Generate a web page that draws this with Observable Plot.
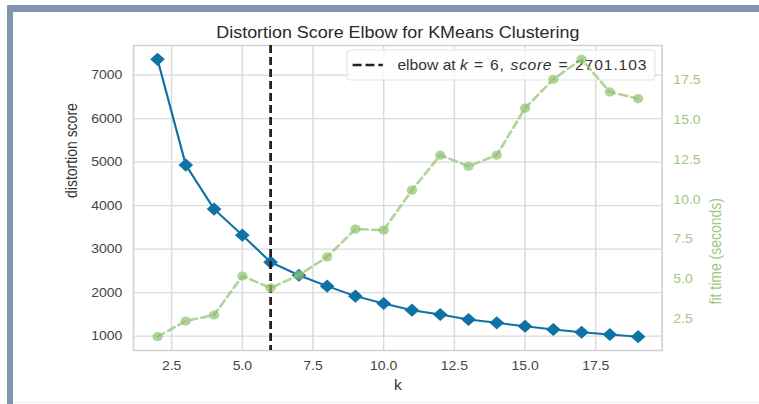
<!DOCTYPE html>
<html>
<head>
<meta charset="utf-8">
<script src="https://cdn.jsdelivr.net/npm/d3@7"></script>
<script src="https://cdn.jsdelivr.net/npm/@observablehq/plot@0.6"></script>
<style>
  html, body { margin: 0; padding: 0; background: #ffffff; }
  body { width: 759px; height: 404px; position: relative; overflow: hidden; }
  #wrap { position: absolute; left: 0; top: 0; width: 678px; height: 404px; transform-origin: 0 0; }
  .band { position: absolute; background: #8295af; }
</style>
</head>
<body>
<div class="band" style="left:7px; top:5px; width:6px; height:399px;"></div>
<div class="band" style="left:7px; top:5px; width:752px; height:7px;"></div>
<div style="position:absolute; left:13px; top:402px; width:746px; height:1px; background:#ececec;"></div>
<div id="wrap"></div>
<script>
// ---- data ----
const kValues = [2, 3, 4, 5, 6, 7, 8, 9, 10, 11, 12, 13, 14, 15, 16, 17, 18, 19];
const distortion = [7360, 4931, 3920, 3322, 2701, 2400, 2150, 1920, 1752, 1598, 1498, 1383, 1307, 1230, 1153, 1092, 1038, 990];
const fitTime = [1.39, 2.37, 2.75, 5.2, 4.45, 5.26, 6.4, 8.15, 8.09, 10.6, 12.8, 12.1, 12.8, 15.75, 17.57, 18.82, 16.77, 16.35];
const xTicks = [2.5, 5.0, 7.5, 10.0, 12.5, 15.0, 17.5];
const yTicks = [1000, 2000, 3000, 4000, 5000, 6000, 7000];
const fitTicks = [2.5, 5.0, 7.5, 10.0, 12.5, 15.0, 17.5];
const elbowK = 6;
const elbowScore = 2701.103;
const titleText = "Distortion Score Elbow for KMeans Clustering";
const xLabel = "k";
const yLabel = "distortion score";
const y2Label = "fit time (seconds)";

// ---- style ----
const blue = "#0f72a5";
const green = "#8fc26f";
const greenText = "#9cc883";
const FONT = "'Liberation Sans', Arial, Helvetica, sans-serif";
const W = 678, H = 404;
const stretch = 759 / W;

const rows = kValues.map((k, i) => ({k, distortion: distortion[i], fit: fitTime[i]}));

function padded(vals) {
  const [a, b] = d3.extent(vals);
  const m = (b - a) * 0.05;
  return [a - m, b + m];
}
const xDomain = padded(kValues);
const yDomain = padded(distortion);
const fitDomain = padded(fitTime);
const toD = d3.scaleLinear().domain(fitDomain).range(yDomain);
const fitTickPos = fitTicks.map(t => toD(t));

const gridStyle = {stroke: "#dadada", strokeOpacity: 1, strokeWidth: 1.3};

function legendMark(index, scales, values, dimensions) {
  const right = dimensions.width - dimensions.marginRight;
  const bw = 275, bh = 30;
  const x0 = right - 6 - bw, y0 = 50;
  const g = d3.create("svg:g").attr("font-family", FONT);
  g.append("rect").attr("x", x0).attr("y", y0).attr("width", bw).attr("height", bh)
    .attr("rx", 3).attr("fill", "#ffffff").attr("fill-opacity", 0.8)
    .attr("stroke", "#e4e4e4").attr("stroke-width", 1);
  g.append("line").attr("x1", x0 + 5).attr("x2", x0 + 32).attr("y1", y0 + 15).attr("y2", y0 + 15)
    .attr("stroke", "#222").attr("stroke-width", 2.5).attr("stroke-dasharray", "8,3.5");
  const t = g.append("text").attr("x", x0 + 45).attr("y", y0 + 20.5)
    .attr("text-anchor", "start").attr("font-size", 14).attr("fill", "#333");
  t.append("tspan").text("elbow at ");
  t.append("tspan").attr("font-style", "italic").text("k");
  t.append("tspan").attr("letter-spacing", 0.6).attr("word-spacing", 1).text(" = " + elbowK + ", ");
  t.append("tspan").attr("font-style", "italic").attr("letter-spacing", 0.6).text("score");
  t.append("tspan").attr("letter-spacing", 0.8).attr("word-spacing", 1).text(" = " + elbowScore.toFixed(3));
  return g.node();
}

const chart = Plot.plot({
  width: W,
  height: H,
  marginLeft: 118.75,
  marginRight: 87,
  marginTop: 45,
  marginBottom: 54,
  style: {background: "transparent", fontFamily: FONT, fontSize: "12.5px", color: "#444", overflow: "visible"},
  x: {domain: xDomain, axis: null},
  y: {domain: yDomain, axis: null},
  marks: [
    Plot.gridX(xTicks, gridStyle),
    Plot.gridY(yTicks, gridStyle),
    Plot.frame({stroke: "#d2d2d2", strokeWidth: 1.5}),
    Plot.axisX(xTicks, {tickSize: 0, tickPadding: 11, tickFormat: d => d.toFixed(1), label: null}),
    Plot.axisY(yTicks, {tickSize: 0, tickPadding: 10, tickFormat: d => String(d), label: null}),
    Plot.axisY(fitTickPos, {anchor: "right", tickSize: 0, tickPadding: 10, color: greenText,
      tickFormat: d => toD.invert(d).toFixed(1), label: null}),
    Plot.line(rows, {x: "k", y: "distortion", stroke: blue, strokeWidth: 2}),
    Plot.dot(rows, {x: "k", y: "distortion", symbol: "diamond2", r: 5.9, fill: blue}),
    Plot.ruleX([elbowK], {stroke: "#222", strokeWidth: 2.5, strokeDasharray: "8,4"}),
    legendMark,
    Plot.line(rows, {x: "k", y: d => toD(d.fit), stroke: green, strokeWidth: 2.5,
      strokeDasharray: "7,4", strokeOpacity: 0.7}),
    Plot.dot(rows, {x: "k", y: d => toD(d.fit), r: 4.6, fill: green, fillOpacity: 0.7}),
    Plot.text([titleText], {frameAnchor: "top", lineAnchor: "middle", dy: -13, fontSize: 16, fill: "#2a2a2a"}),
    Plot.text([xLabel], {frameAnchor: "bottom", lineAnchor: "middle", dy: 35, fontSize: 14, fill: "#333"}),
    Plot.text([yLabel], {frameAnchor: "left", lineAnchor: "middle", rotate: -90, dx: -55, fontSize: 14, fill: "#333"}),
    Plot.text([y2Label], {frameAnchor: "right", lineAnchor: "middle", rotate: -90, dx: 48, fontSize: 14, fill: greenText})
  ]
});

const wrap = document.getElementById("wrap");
wrap.style.transform = `scaleX(${stretch})`;
wrap.appendChild(chart);
</script>
</body>
</html>
